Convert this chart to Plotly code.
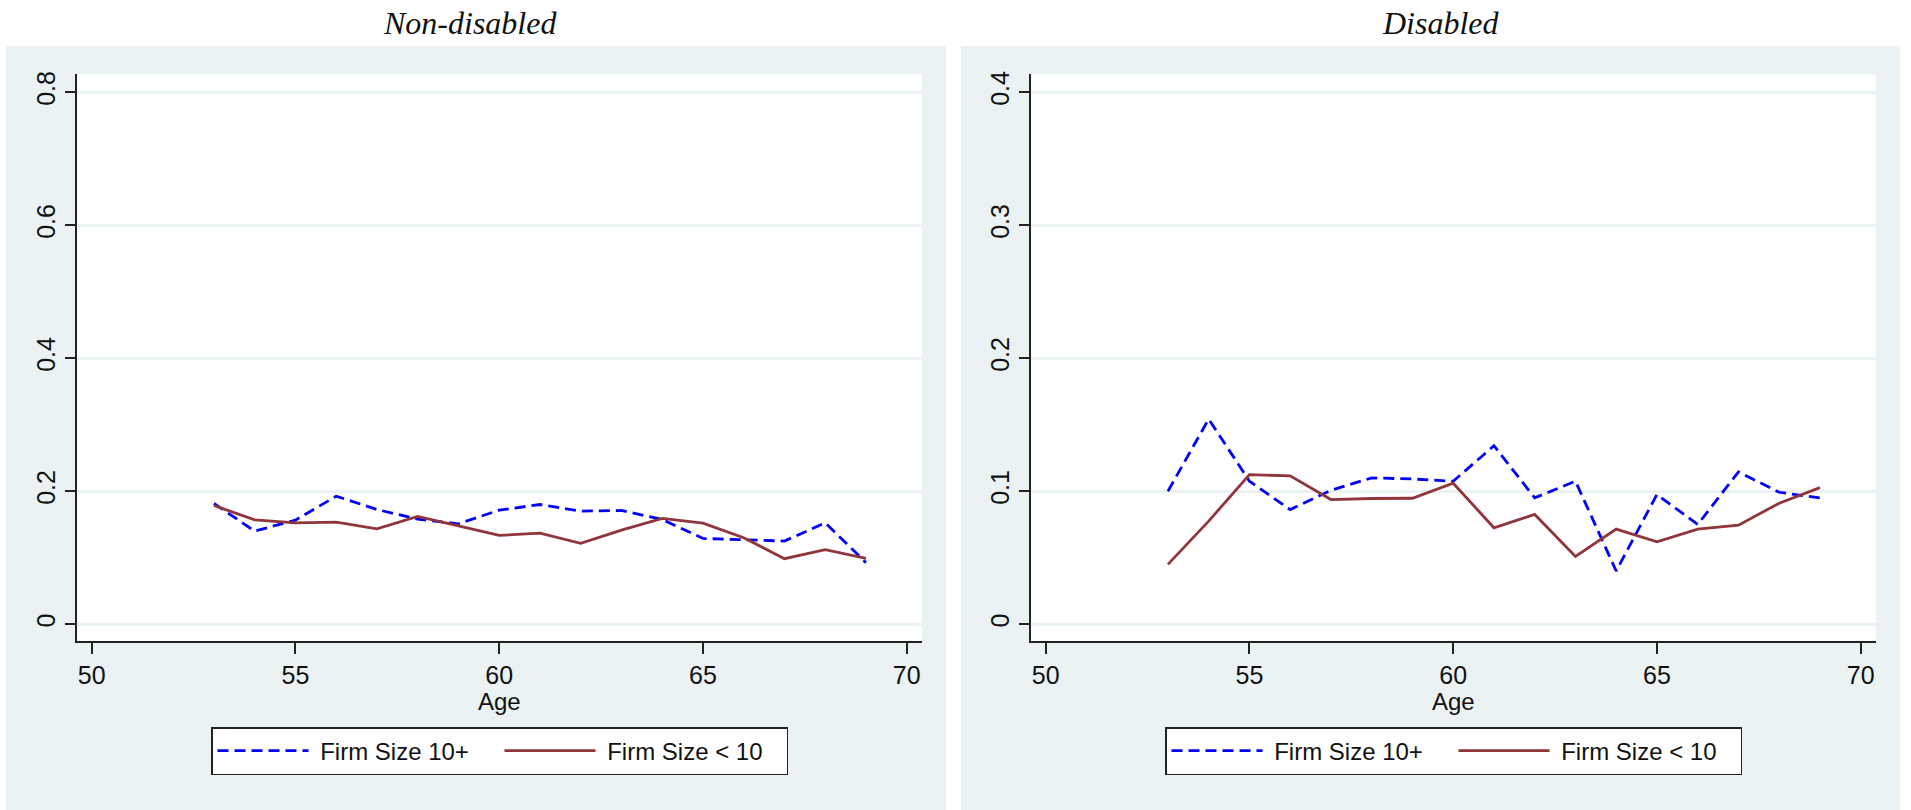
import plotly.graph_objects as go

# Age grid shared by both panels
ages = list(range(53, 70))

# Non-disabled panel
nd_large = [0.1815, 0.140, 0.1565, 0.1925, 0.1725, 0.158, 0.151, 0.1715, 0.180,
            0.170, 0.171, 0.1575, 0.129, 0.1275, 0.125, 0.1525, 0.0925]
nd_small = [0.1785, 0.157, 0.1525, 0.1535, 0.1435, 0.162, 0.148, 0.1335, 0.137,
            0.1215, 0.1415, 0.159, 0.152, 0.130, 0.0985, 0.112, 0.099]

# Disabled panel
d_large = [0.100, 0.1542, 0.1075, 0.0862, 0.1007, 0.110, 0.1092, 0.1075, 0.1342,
           0.095, 0.1075, 0.040, 0.0975, 0.075, 0.1145, 0.0992, 0.095]
d_small = [0.045, 0.0775, 0.1125, 0.1115, 0.0937, 0.0945, 0.0947, 0.106, 0.0725,
           0.0825, 0.051, 0.0715, 0.062, 0.0715, 0.0745, 0.091, 0.1027]

panel_titles = ["Non-disabled", "Disabled"]
series_names = ["Firm Size 10+", "Firm Size < 10"]
x_title = "Age"
x_ticks = [50, 55, 60, 65, 70]
left_y_ticks = [0, 0.2, 0.4, 0.6, 0.8]
right_y_ticks = [0, 0.1, 0.2, 0.3, 0.4]

W, H = 1911, 810
BG = "#EAF2F3"
BLUE = "#0000FF"
MAROON = "#90353B"
AXIS = "#222222"
SANS = "Liberation Sans, Arial, sans-serif"
SERIF = "Liberation Serif, Times New Roman, serif"


def px_x(p):
    return p / W


def px_y(p):
    return 1 - p / H


plot_top, plot_bottom = 71.7, 640.0
left_dom = [px_x(77), px_x(922)]
right_dom = [px_x(1031), px_x(1876)]
y_dom = [px_y(plot_bottom), px_y(plot_top)]

fig = go.Figure()

dash_style = "11px,6px"
for xa, ya, big, small, lg in [("x", "y", nd_large, nd_small, "legend"),
                               ("x2", "y2", d_large, d_small, "legend2")]:
    fig.add_trace(go.Scatter(x=ages, y=big, mode="lines",
                             name="\u00a0" + series_names[0],
                             line=dict(color=BLUE, width=2.8, dash=dash_style),
                             xaxis=xa, yaxis=ya, legend=lg))
    fig.add_trace(go.Scatter(x=ages, y=small, mode="lines",
                             name="\u00a0" + series_names[1],
                             line=dict(color=MAROON, width=2.8),
                             xaxis=xa, yaxis=ya, legend=lg))

common_x = dict(range=[49.64, 70.375], tickvals=x_ticks, showgrid=False, zeroline=False,
                showline=True, linecolor=AXIS, linewidth=1.5, ticks="outside",
                ticklen=12, tickwidth=1.5, tickcolor=AXIS,
                tickfont=dict(family=SANS, size=25, color="#111"))
common_y = dict(showgrid=True, gridcolor=BG, gridwidth=2.5, zeroline=False,
                showline=True, linecolor=AXIS, linewidth=1.5, ticks="outside",
                ticklen=10, tickwidth=1.5, tickcolor=AXIS, tickangle=-90,
                tickfont=dict(family=SANS, size=25, color="#111"))

fig.update_layout(
    width=W, height=H,
    margin=dict(l=0, r=0, t=0, b=0),
    paper_bgcolor="white", plot_bgcolor="white",
    xaxis=dict(domain=left_dom, anchor="y", **common_x),
    yaxis=dict(domain=y_dom, anchor="x", range=[-0.0247, 0.8267],
               tickvals=left_y_ticks, ticktext=["0", "0.2", "0.4", "0.6", "0.8"],
               **common_y),
    xaxis2=dict(domain=right_dom, anchor="y2", **common_x),
    yaxis2=dict(domain=y_dom, anchor="x2", range=[-0.01235, 0.41335],
                tickvals=right_y_ticks, ticktext=["0", "0.1", "0.2", "0.3", "0.4"],
                **common_y),
    showlegend=True,
)

legend_style = dict(orientation="h", xanchor="center", yanchor="top",
                    y=px_y(726.7), bgcolor="white", bordercolor=AXIS, borderwidth=1.5,
                    font=dict(family=SANS, size=24, color="#111"),
                    itemwidth=91, entrywidth=181, tracegroupgap=0)
fig.update_layout(
    legend=dict(x=(left_dom[0] + left_dom[1]) / 2, **legend_style),
    legend2=dict(x=(right_dom[0] + right_dom[1]) / 2, **legend_style),
)

# Panel backgrounds and white plot regions
shapes = []
for x0, x1 in [(6, 946), (961, 1900)]:
    shapes.append(dict(type="rect", xref="paper", yref="paper",
                       x0=px_x(x0), x1=px_x(x1), y0=0, y1=px_y(43.3),
                       fillcolor=BG, line=dict(width=0), layer="below"))
for dom in [left_dom, right_dom]:
    shapes.append(dict(type="rect", xref="paper", yref="paper",
                       x0=dom[0], x1=dom[1], y0=y_dom[0], y1=y_dom[1],
                       fillcolor="white", line=dict(width=0), layer="below"))
fig.update_layout(shapes=shapes)

# Panel titles and x-axis titles
for txt, cx, dom in zip(panel_titles, [470, 1441], [left_dom, right_dom]):
    fig.add_annotation(text=f"<i>{txt}</i>", xref="paper", yref="paper",
                       x=px_x(cx), y=px_y(20), xanchor="center", yanchor="middle",
                       showarrow=False, font=dict(family=SERIF, size=32, color="#111"))
    fig.add_annotation(text=x_title, xref="paper", yref="paper",
                       x=(dom[0] + dom[1]) / 2, y=px_y(686.5), xanchor="center",
                       yanchor="top", showarrow=False, borderpad=0,
                       font=dict(family=SANS, size=24, color="#111"))

fig.write_html("out.html")
